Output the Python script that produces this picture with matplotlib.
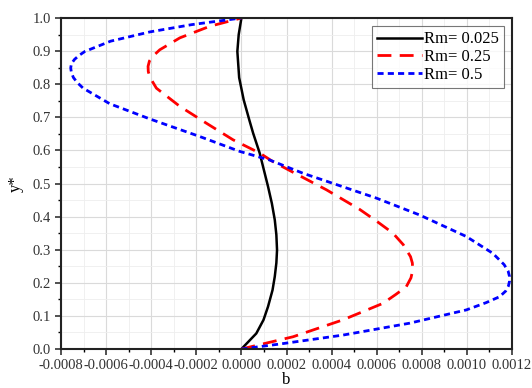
import matplotlib
matplotlib.use('Agg')
import matplotlib.pyplot as plt
from matplotlib.ticker import MultipleLocator, FormatStrFormatter

# values
y_black = [0.0, 0.047, 0.088, 0.128, 0.178, 0.219, 0.26, 0.299, 0.345, 0.39, 0.44, 0.491, 0.54, 0.592,
           0.652, 0.692, 0.753, 0.82, 0.899, 0.95, 1.0]
b_black = [0.0, 0.000066, 0.000098, 0.000118, 0.000138, 0.000148, 0.000155, 0.000158, 0.000155, 0.000148,
           0.000135, 0.000118, 0.000100, 0.000081, 0.000052, 0.000035, 0.000010, -0.000010, -0.000018,
           -0.000012, 0.0]

y_red = [0.0, 0.037, 0.088, 0.138, 0.165, 0.188, 0.215, 0.239, 0.26, 0.279, 0.315, 0.35, 0.385, 0.422,
         0.481, 0.53, 0.566, 0.592, 0.632, 0.682, 0.733, 0.788, 0.82, 0.838, 0.854, 0.87, 0.885, 0.904,
         0.94, 0.975, 1.0]
b_red = [0.0, 0.000229, 0.00045, 0.000628, 0.000685, 0.000731, 0.000752, 0.00076, 0.000758, 0.000750,
         0.000718, 0.000672, 0.000602, 0.000524, 0.000377, 0.000240, 0.00014, 0.000081, -0.000037,
         -0.000155, -0.000273, -0.000377, -0.000405, -0.000413, -0.000414, -0.000408, -0.000392,
         -0.000362, -0.000273, -0.00014, 0.0]

y_blue = [0.0, 0.015, 0.042, 0.078, 0.118, 0.14, 0.158, 0.175, 0.19, 0.205, 0.219, 0.235, 0.255, 0.289,
          0.34, 0.405, 0.456, 0.531, 0.571, 0.597, 0.642, 0.695, 0.741, 0.788, 0.805, 0.82, 0.835,
          0.849, 0.862, 0.875, 0.887, 0.899, 0.93, 0.958, 0.98, 1.0]
b_blue = [0.0, 0.00017, 0.00045, 0.000746, 0.000997, 0.001085, 0.001145, 0.001172, 0.001184, 0.001189,
          0.001189, 0.001183, 0.001165, 0.001115, 0.000997, 0.00079, 0.000598, 0.000273, 0.000125,
          -0.0000075, -0.000185, -0.000406, -0.000584, -0.000702, -0.000728, -0.000745, -0.000754,
          -0.000757, -0.000754, -0.000740, -0.000720, -0.000694, -0.000580, -0.000406, -0.00022, 0.0]

labels = ['Rm= 0.025', 'Rm= 0.25', 'Rm= 0.5']

plt.rcParams['font.family'] = ['Liberation Serif', 'DejaVu Serif']

fig = plt.figure(figsize=(5.32, 3.88), dpi=100)
ax = fig.add_axes([0.1147, 0.1005, 0.8477, 0.8531])

ax.plot(b_black, y_black, color='black', lw=1.8, label=labels[0])
ax.plot(b_red, y_red, color='#ff0000', lw=2.0, dashes=(5, 3), label=labels[1])
ax.plot(b_blue, y_blue, color='#0000ff', lw=2.0, dashes=(2.2, 1.5), label=labels[2])

ax.set_xlim(-0.0008, 0.0012)
ax.set_ylim(0.0, 1.0)
ax.xaxis.set_major_locator(MultipleLocator(0.0002))
ax.xaxis.set_minor_locator(MultipleLocator(0.0001))
ax.yaxis.set_major_locator(MultipleLocator(0.1))
ax.yaxis.set_minor_locator(MultipleLocator(0.05))
ax.xaxis.set_major_formatter(FormatStrFormatter('%.4f'))
ax.yaxis.set_major_formatter(FormatStrFormatter('%.1f'))

ax.grid(which='major', color='#dadada', lw=0.8)
ax.grid(which='minor', color='#eeeeee', lw=0.6)
ax.set_axisbelow(True)

ax.tick_params(which='major', direction='out', length=4, width=1.2, labelsize=10.5,
               colors='#333333', top=False, right=False)
ax.tick_params(which='minor', direction='out', length=2.5, width=1.0, top=False, right=False)
for s in ax.spines.values():
    s.set_linewidth(1.5)
    s.set_color('#222222')

ax.set_xlabel('b', fontsize=12, labelpad=0)
ax.set_ylabel('y*', fontsize=12, labelpad=6)

leg = ax.legend(loc='upper right', fontsize=12, frameon=True, fancybox=False, handlelength=2.7,
                handletextpad=0.1, borderpad=0.3, labelspacing=0.1, borderaxespad=0.5)
leg.get_frame().set_edgecolor('#555555')
leg.get_frame().set_linewidth(0.8)

fig.savefig('out.png', dpi=100)
